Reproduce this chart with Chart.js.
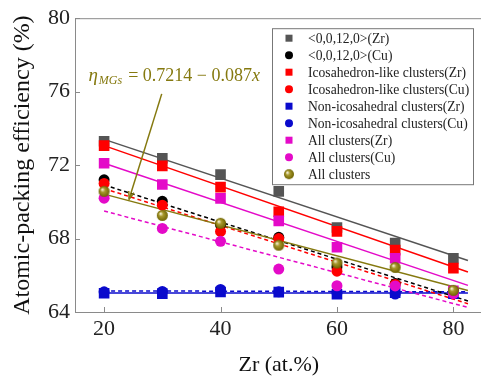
<!DOCTYPE html>
<html>
<head>
<meta charset="utf-8">
<script src="https://cdn.jsdelivr.net/npm/chart.js@4.4.1/dist/chart.umd.min.js"></script>
<style>
  html, body { margin: 0; padding: 0; background: #fff; overflow: hidden; }
  #wrap { width: 490px; height: 382px; }
</style>
</head>
<body>
<div id="wrap"><canvas id="apeChart" width="490" height="382"></canvas></div>
<script>
// Zr content (at.%)
const zr = [20, 30, 40, 50, 60, 70, 80];

// atomic-packing efficiency (%) per cluster type
const zr0012 = [73.3, 72.37, 71.48, 70.57, 68.6, 67.76, 66.93];
const cu0012 = [71.2, 70.03, 68.75, 68.07, 66.45, 65.55, 65.1];
const icoZr = [73.06, 71.96, 70.8, 69.46, 68.39, 67.37, 66.39];
const icoCu = [71.0, 69.82, 68.39, 68.0, 66.22, 65.5, 65.05];
const nonIcoZr = [65.02, 65.0, 65.09, 65.08, 64.97, 65.05, 65.0];
const nonIcoCu = [65.1, 65.12, 65.23, 65.1, 65.05, 64.98, 65.02];
const allZr = [72.1, 70.94, 70.19, 68.96, 67.53, 66.93, 65.15];
const allCu = [70.2, 68.55, 67.85, 66.34, 65.43, 65.42, 65.0];
const allClusters = [70.57, 69.26, 68.83, 67.64, 66.67, 66.43, 65.18];

// linear fits, start / end values
const fitX = [20, 82.5];
const fitZr0012 = [73.4, 66.8];
const fitIcoZr = [73.06, 66.18];
const fitAllZr = [72.1, 65.45];
const fitAll = [70.42, 65.17];
const fitCu0012 = [70.92, 64.6];
const fitIcoCu = [70.72, 64.45];
const fitAllCu = [69.5, 64.25];
const fitNonZr = [65.04, 65.04];
const fitNonCu = [65.15, 65.1];

const yTicks = [64, 68, 72, 76, 80];
const xTicks = [20, 40, 60, 80];

const GREY = '#555555', BLACK = '#000000', RED = '#ff0000', BLUE = '#0a0acc',
      MAGENTA = '#e40ac8', OLIVE = '#85790f';

// shaded ball marker for the "All clusters" series
function makeBall(r) {
  const c = document.createElement('canvas');
  c.width = c.height = r * 2 + 2;
  const g = c.getContext('2d');
  const cx = r + 1, cy = r + 1;
  const grad = g.createRadialGradient(cx - r * 0.35, cy - r * 0.35, 0.5, cx, cy, r);
  grad.addColorStop(0, '#f2eed0');
  grad.addColorStop(0.35, '#a8992e');
  grad.addColorStop(1, '#6e6300');
  g.fillStyle = grad;
  g.beginPath();
  g.arc(cx, cy, r, 0, Math.PI * 2);
  g.fill();
  return c;
}
const ball = makeBall(5.5);
const ballSmall = makeBall(5);

const pts = arr => zr.map((x, i) => ({ x: x, y: arr[i] }));
const fit = arr => fitX.map((x, i) => ({ x: x, y: arr[i] }));

const series = [
  { label: '<0,0,12,0>(Zr)', data: zr0012, color: GREY, style: 'rect' },
  { label: '<0,0,12,0>(Cu)', data: cu0012, color: BLACK, style: 'circle' },
  { label: 'Icosahedron-like clusters(Zr)', data: icoZr, color: RED, style: 'rect' },
  { label: 'Icosahedron-like clusters(Cu)', data: icoCu, color: RED, style: 'circle' },
  { label: 'Non-icosahedral clusters(Zr)', data: nonIcoZr, color: BLUE, style: 'rect' },
  { label: 'Non-icosahedral clusters(Cu)', data: nonIcoCu, color: BLUE, style: 'circle' },
  { label: 'All clusters(Zr)', data: allZr, color: MAGENTA, style: 'rect' },
  { label: 'All clusters(Cu)', data: allCu, color: MAGENTA, style: 'circle' },
  { label: 'All clusters', data: allClusters, color: OLIVE, style: 'ball' }
];

const fits = [
  { data: fitZr0012, color: GREY, dash: [] },
  { data: fitIcoZr, color: RED, dash: [] },
  { data: fitAllZr, color: MAGENTA, dash: [] },
  { data: fitAll, color: OLIVE, dash: [] },
  { data: fitCu0012, color: BLACK, dash: [4, 3] },
  { data: fitIcoCu, color: RED, dash: [4, 3] },
  { data: fitAllCu, color: MAGENTA, dash: [4, 3] },
  { data: fitNonZr, color: BLUE, dash: [] },
  { data: fitNonCu, color: BLUE, dash: [4, 3] }
];

const datasets = [];
fits.forEach((f, i) => {
  datasets.push({
    type: 'line', data: fit(f.data), borderColor: f.color, borderWidth: 1.5,
    borderDash: f.dash, pointRadius: 0, fill: false, order: 200 + i
  });
});
series.forEach((s, i) => {
  datasets.push({
    type: 'scatter', label: s.label, data: pts(s.data),
    pointStyle: s.style === 'ball' ? ball : s.style,
    pointRadius: s.style === 'rect' ? 7.5 : 5.5,
    backgroundColor: s.color, borderColor: s.color, borderWidth: 0,
    order: 100 - i
  });
});

// in-plot legend, inward ticks, frame and the fit equation
const decorations = {
  id: 'decorations',
  afterDraw(chart) {
    const { ctx, chartArea: a, scales } = chart;
    const xs = scales.x, ys = scales.y;
    ctx.save();

    // frame
    ctx.strokeStyle = '#8a8a8a';
    ctx.lineWidth = 1;
    ctx.beginPath();
    ctx.moveTo(a.left + 0.5, a.bottom + 0.5);
    ctx.lineTo(a.left + 0.5, a.top + 0.5);
    ctx.lineTo(a.right, a.top + 0.5);
    ctx.moveTo(a.left, a.bottom + 0.5);
    ctx.lineTo(a.right, a.bottom + 0.5);
    ctx.stroke();

    // inward ticks
    ctx.beginPath();
    xTicks.forEach(v => {
      const px = Math.round(xs.getPixelForValue(v)) + 0.5;
      ctx.moveTo(px, a.bottom);
      ctx.lineTo(px, a.bottom - 5);
    });
    yTicks.forEach(v => {
      const py = Math.round(ys.getPixelForValue(v)) + 0.5;
      ctx.moveTo(a.left, py);
      ctx.lineTo(a.left + 5, py);
    });
    ctx.stroke();

    // legend box
    const lx = a.left + 197, ly = a.top + 10, lw = 201, lh = 156;
    ctx.fillStyle = '#fff';
    ctx.fillRect(lx, ly, lw, lh);
    ctx.strokeStyle = '#777';
    ctx.strokeRect(lx + 0.5, ly + 0.5, lw, lh);
    ctx.font = '13.6px "Liberation Serif", "Times New Roman", serif';
    ctx.textBaseline = 'middle';
    series.forEach((s, i) => {
      const cy = ly + 10 + i * 17;
      const mx = lx + 17;
      if (s.style === 'rect') {
        ctx.fillStyle = s.color;
        ctx.fillRect(mx - 3.5, cy - 3.5, 7, 7);
      } else if (s.style === 'circle') {
        ctx.fillStyle = s.color;
        ctx.beginPath();
        ctx.arc(mx, cy, 4, 0, Math.PI * 2);
        ctx.fill();
      } else {
        ctx.drawImage(ballSmall, mx - ballSmall.width / 2, cy - ballSmall.height / 2);
      }
      ctx.fillStyle = '#222';
      ctx.fillText(s.label, lx + 36, cy + 1);
    });

    // fit equation with arrow
    const tx = xs.getPixelForValue(17.3), ty = ys.getPixelForValue(76.85);
    ctx.fillStyle = OLIVE;
    ctx.textBaseline = 'alphabetic';
    let cx = tx;
    ctx.font = 'italic 19px "Liberation Serif", serif';
    ctx.fillText('η', cx, ty + 5);
    cx += ctx.measureText('η').width + 1;
    ctx.font = 'italic 12px "Liberation Serif", serif';
    ctx.fillText('MGs', cx, ty + 8);
    cx += ctx.measureText('MGs').width + 6;
    ctx.font = '18px "Liberation Serif", serif';
    const eq = '= 0.7214 − 0.087';
    ctx.fillText(eq, cx, ty + 5);
    cx += ctx.measureText(eq).width;
    ctx.font = 'italic 18px "Liberation Serif", serif';
    ctx.fillText('x', cx, ty + 5);

    const x0 = xs.getPixelForValue(29.9), y0 = ys.getPixelForValue(75.88);
    const x1 = xs.getPixelForValue(24.3), y1 = ys.getPixelForValue(70.15);
    ctx.strokeStyle = OLIVE;
    ctx.lineWidth = 1.5;
    ctx.beginPath();
    ctx.moveTo(x0, y0);
    ctx.lineTo(x1, y1);
    ctx.stroke();
    const ang = Math.atan2(y1 - y0, x1 - x0);
    ctx.beginPath();
    ctx.moveTo(x1 - 8 * Math.cos(ang - 0.35), y1 - 8 * Math.sin(ang - 0.35));
    ctx.lineTo(x1, y1);
    ctx.lineTo(x1 - 8 * Math.cos(ang + 0.35), y1 - 8 * Math.sin(ang + 0.35));
    ctx.stroke();

    ctx.restore();
  }
};

const serif = '"Liberation Serif", "Times New Roman", serif';

new Chart(document.getElementById('apeChart'), {
  data: { datasets: datasets },
  options: {
    responsive: false,
    animation: false,
    layout: { padding: { top: 13, right: 4, left: 0, bottom: 0 } },
    plugins: {
      legend: { display: false },
      tooltip: { enabled: false }
    },
    scales: {
      x: {
        type: 'linear', min: 15, max: 85,
        grid: { display: false, drawTicks: false },
        border: { display: false },
        afterBuildTicks: s => { s.ticks = xTicks.map(v => ({ value: v })); },
        ticks: { font: { family: serif, size: 22 }, color: '#222', padding: 4, maxRotation: 0 },
        title: { display: true, text: 'Zr (at.%)', font: { family: serif, size: 22 }, color: '#111', padding: { top: 0, bottom: 4 } },
        afterFit: s => { s.height = 70; }
      },
      y: {
        type: 'linear', min: 64, max: 80,
        grid: { display: false, drawTicks: false },
        border: { display: false },
        afterBuildTicks: s => { s.ticks = yTicks.map(v => ({ value: v })); },
        ticks: { font: { family: serif, size: 22 }, color: '#222', padding: 5 },
        title: { display: true, text: 'Atomic-packing efficiency (%)', font: { family: serif, size: 24 }, color: '#111', padding: { top: 8, bottom: 0 } },
        afterFit: s => { s.width = 75; }
      }
    }
  },
  plugins: [decorations]
});
</script>
</body>
</html>
